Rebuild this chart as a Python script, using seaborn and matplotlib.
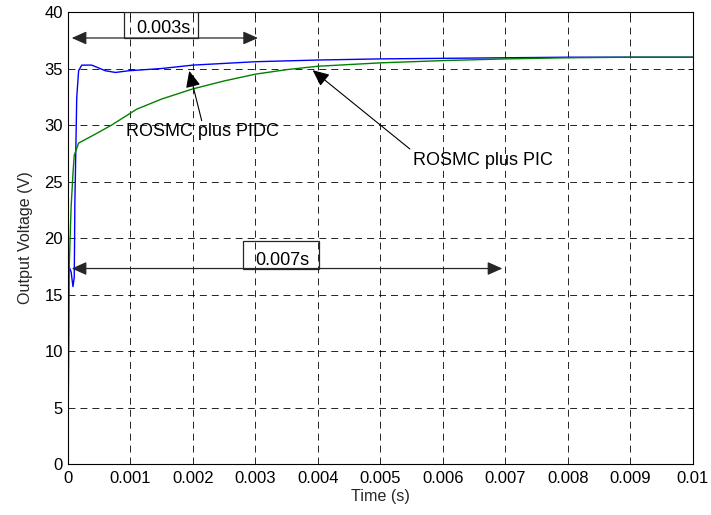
import matplotlib
matplotlib.use("Agg")
import numpy as np
import pandas as pd
import matplotlib.pyplot as plt
import seaborn as sns
from matplotlib.patches import FancyArrowPatch, Rectangle

# ---- step response of the output voltage ----
t_pidc = [0.0, 0.000015, 0.00005, 0.00008, 0.0001, 0.000105, 0.00011, 0.00012,
          0.00014, 0.00017, 0.00022, 0.00038, 0.0006, 0.00076, 0.00097, 0.0015,
          0.002, 0.003, 0.004, 0.005, 0.006, 0.007, 0.008, 0.01]
v_pidc = [0.0, 17.5, 17.0, 15.7, 16.5, 19.3, 23.0, 26.0,
          32.4, 34.8, 35.3, 35.3, 34.8, 34.65, 34.8, 35.0,
          35.3, 35.6, 35.75, 35.85, 35.9, 35.95, 36.0, 36.0]

t_pic = [0.0, 0.000016, 0.00003, 0.00005, 0.00008, 0.0001, 0.00017, 0.00044,
         0.0007, 0.0011, 0.0015, 0.002, 0.0025, 0.003, 0.0035, 0.004,
         0.005, 0.006, 0.007, 0.008, 0.009, 0.01]
v_pic = [0.0, 16.9, 19.2, 22.7, 25.7, 27.3, 28.4, 29.2,
         30.0, 31.4, 32.3, 33.2, 33.9, 34.5, 34.9, 35.2,
         35.5, 35.7, 35.85, 35.95, 36.0, 36.0]

series_names = ["ROSMC plus PIDC", "ROSMC plus PIC"]
series_colors = ["#0000FF", "#008000"]

x_ticks = [0.0, 0.001, 0.002, 0.003, 0.004, 0.005, 0.006, 0.007, 0.008, 0.009, 0.01]
x_tick_labels = ["0", "0.001", "0.002", "0.003", "0.004", "0.005",
                 "0.006", "0.007", "0.008", "0.009", "0.01"]
y_ticks = [0, 5, 10, 15, 20, 25, 30, 35, 40]

# settling-time markers: (start, end, level, label)
span_short = (0.00006, 0.00304, 37.7, "0.003s")
span_long = (0.00006, 0.00695, 17.3, "0.007s")

df = pd.concat([
    pd.DataFrame({"t": t_pidc, "v": v_pidc, "controller": series_names[0]}),
    pd.DataFrame({"t": t_pic, "v": v_pic, "controller": series_names[1]}),
], ignore_index=True)

sns.set_style("white")
plt.rcParams["font.family"] = ["Liberation Sans", "DejaVu Sans"]
plt.rcParams["lines.scale_dashes"] = False

fig = plt.figure(figsize=(7.11, 5.15), dpi=100)
ax = fig.add_axes([0.0956, 0.0990, 0.8790, 0.8777])

sns.lineplot(data=df, x="t", y="v", hue="controller",
             palette=dict(zip(series_names, series_colors)),
             estimator=None, sort=False, legend=False, linewidth=1.0, ax=ax)

ax.set_xlim(0, 0.01)
ax.set_ylim(0, 40)
ax.set_xticks(x_ticks)
ax.set_xticklabels(x_tick_labels)
ax.set_yticks(y_ticks)
ax.set_yticklabels([str(v) for v in y_ticks])

ax.grid(True, color="black", linewidth=0.6, linestyle=(0, (5.0, 3.6)))
ax.set_axisbelow(True)
for s in ax.spines.values():
    s.set_color("black")
    s.set_linewidth(0.8)
ax.tick_params(direction="in", top=True, right=True, length=3.5, width=0.6,
               labelsize=12, colors="black")
ax.tick_params(axis="x", pad=5)
ax.tick_params(axis="y", pad=3.5)

ax.set_xlabel("Time (s)", fontsize=11.6, labelpad=2)
ax.set_ylabel("Output Voltage (V)", fontsize=11.6, labelpad=8)

# double-headed span arrows with boxed labels
def span(x0, x1, y, label, box_x0, box_x1, box_y1, text_x, text_y):
    ax.add_patch(FancyArrowPatch((x0, y), (x1, y),
                                 arrowstyle="<|-|>,head_length=9,head_width=4",
                                 mutation_scale=1, color="0.15", linewidth=0.9,
                                 shrinkA=0, shrinkB=0, zorder=5))
    ax.add_patch(Rectangle((box_x0, y), box_x1 - box_x0, box_y1 - y,
                           fill=False, edgecolor="0.15", linewidth=0.9, zorder=5))
    ax.text(text_x, text_y, label, fontsize=13, ha="center", va="baseline",
            color="black", zorder=6)

span(*span_short[:3], span_short[3], 0.000896, 0.00208, 40.0, 0.001533, 38.12)
span(*span_long[:3], span_long[3], 0.002795, 0.00402, 19.7, 0.003424, 17.57)

# curve labels with pointer arrows
def pointer(label, text_xy, tail, tip):
    ax.text(*text_xy, label, fontsize=13, ha="center", va="baseline",
            color="black", zorder=6)
    ax.add_patch(FancyArrowPatch(tail, tip,
                                 arrowstyle="-|>,head_length=10,head_width=4.5",
                                 mutation_scale=1, color="black", linewidth=0.8,
                                 shrinkA=0, shrinkB=0, zorder=5))

pointer(series_names[0], (0.002157, 29.05), (0.00214, 30.38), (0.00194, 34.79))
pointer(series_names[1], (0.006632, 26.49), (0.00547, 27.88), (0.003915, 34.85))

fig.savefig("out.png", dpi=100)
